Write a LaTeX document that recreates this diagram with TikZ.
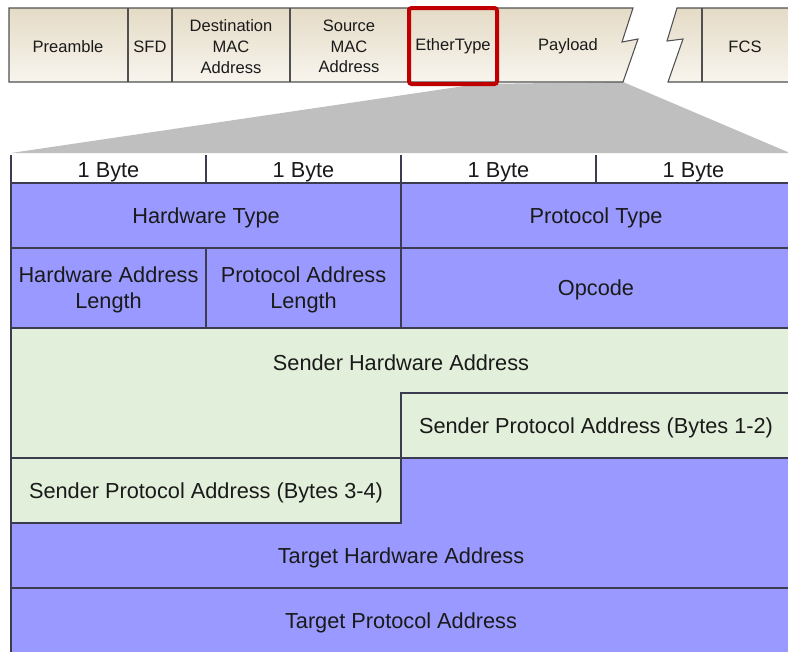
\documentclass[tikz,border=0pt]{standalone}
\usepackage{fontspec}
\setmainfont{Liberation Sans}
\definecolor{purp}{HTML}{9999FF}
\definecolor{grn}{HTML}{E2EFDA}
\definecolor{tline}{HTML}{3C3C50}
\definecolor{fline}{HTML}{505050}
\definecolor{ftop}{HTML}{E4DBC6}
\definecolor{fbot}{HTML}{F8F5EE}
\definecolor{zoomgray}{HTML}{BFBFBF}
\definecolor{redbox}{HTML}{C00000}
\definecolor{txt}{HTML}{1A1A1A}
\begin{document}
\begin{tikzpicture}[x=0.75pt,y=-0.75pt,
  frametxt/.style={text=txt,font=\fontsize{12.4}{15.5}\selectfont,align=center,inner sep=0pt,yshift=-1.2pt},
  tabtxt/.style={text=txt,font=\fontsize{16.3}{20}\selectfont,align=center,inner sep=0pt,yshift=-1.5pt},
  tcell/.style={draw=tline,line width=1pt},
  fpart/.style={draw=fline,line width=0.8pt,top color=ftop,bottom color=fbot},
  fdiv/.style={draw=fline,line width=0.8pt}]
\useasboundingbox (0,0) rectangle (788,651);
\clip (0,0) rectangle (788,651);
\fill[white] (0,0) rectangle (788,651);

% zoom trapezoid
\fill[zoomgray] (11,153) -- (478,84) -- (623,82) -- (790,153) -- cycle;

% Ethernet frame
\path[fpart] (9,8) -- (633,8) -- (622,42) -- (638,39) -- (623,82) -- (9,82) -- cycle;
\path[fpart] (677,8) -- (795,8) -- (795,82) -- (668,82) -- (683,39) -- (667,41) -- cycle;
\foreach \xx in {128,172,290,408,497,702} \draw[fdiv] (\xx,8) -- (\xx,82);
\node[frametxt] (pre) at (68,45) {Preamble};
\node[frametxt] (sfd) at (150,45) {SFD};
\node[frametxt] (dst) at (231,45) {Destination\\MAC\\Address};
\node[frametxt] (src) at (349,45) {Source\\MAC\\Address};
\node[frametxt] (eth) at (453,45) {EtherType};
\node[frametxt] (pay) at (568,45) {Payload};
\node[frametxt] (fcs) at (745,45) {FCS};
\draw[redbox,line width=3pt,rounded corners=2pt] (409,8) rectangle (497,84);

% header row
\fill[white] (11,155) rectangle (791,183);
\foreach \xx in {11,206,401,596} \draw[tcell] (\xx,155) -- (\xx,183);
\node[tabtxt] (b1) at (108.5,170) {1 Byte};
\node[tabtxt] (b2) at (303.5,170) {1 Byte};
\node[tabtxt] (b3) at (498.5,170) {1 Byte};
\node[tabtxt] (b4) at (693.5,170) {1 Byte};

% purple rows
\path[tcell,fill=purp] (11,183) rectangle (401,248);
\path[tcell,fill=purp] (401,183) rectangle (791,248);
\path[tcell,fill=purp] (11,248) rectangle (206,328);
\path[tcell,fill=purp] (206,248) rectangle (401,328);
\path[tcell,fill=purp] (401,248) rectangle (791,328);
\node[tabtxt] (hwt) at (206,215.5) {Hardware Type};
\node[tabtxt] (prt) at (596,215.5) {Protocol Type};
\node[tabtxt] (hal) at (108.5,288) {Hardware Address\\Length};
\node[tabtxt] (pal) at (303.5,288) {Protocol Address\\Length};
\node[tabtxt] (opc) at (596,288) {Opcode};

% green sender block
\path[tcell,fill=grn] (11,328) -- (791,328) -- (791,393) -- (401,393) -- (401,458) -- (11,458) -- cycle;
\path[tcell,fill=grn] (401,393) rectangle (791,458);
\path[tcell,fill=grn] (11,458) rectangle (401,523);
\node[tabtxt] (sha) at (401,360.5) {Sender Hardware Address};
\node[tabtxt] (spa12) at (596,425.5) {Sender Protocol Address (Bytes 1-2)};
\node[tabtxt] (spa34) at (206,490.5) {Sender Protocol Address (Bytes 3-4)};

% target rows
\path[tcell,fill=purp] (401,458) -- (791,458) -- (791,588) -- (11,588) -- (11,523) -- (401,523) -- cycle;
\path[tcell,fill=purp] (11,588) rectangle (791,653);
\node[tabtxt] (tha) at (401,555.5) {Target Hardware Address};
\node[tabtxt] (tpa) at (401,620.5) {Target Protocol Address};
\end{tikzpicture}
\end{document}
